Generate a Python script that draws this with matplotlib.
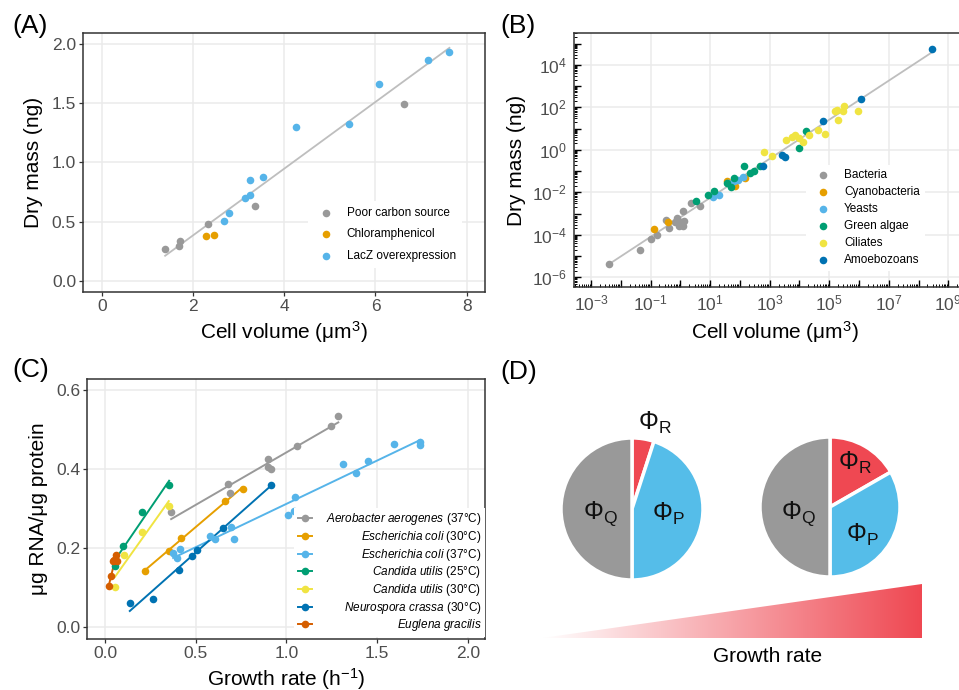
import matplotlib
matplotlib.use("Agg")
import matplotlib.pyplot as plt
import matplotlib.ticker as tck
import numpy as np
from matplotlib.colors import LinearSegmentedColormap
from matplotlib.lines import Line2D
from matplotlib.patches import Polygon

plt.rcParams['font.family'] = ['Liberation Sans', 'DejaVu Sans']
plt.rcParams['mathtext.fontset'] = 'custom'
plt.rcParams['mathtext.rm'] = 'Liberation Sans'
plt.rcParams['mathtext.it'] = 'Liberation Sans:italic'
plt.rcParams['mathtext.bf'] = 'Liberation Sans:bold'

# ========== data ==========
# (A) dry mass vs cell volume
poor_x = [1.39, 1.69, 1.72, 2.34, 3.37, 6.62]
poor_y = [0.27, 0.295, 0.34, 0.48, 0.63, 1.49]
chl_x = [2.28, 2.46]
chl_y = [0.38, 0.39]
lacz_x = [2.69, 2.80, 3.14, 3.25, 3.25, 3.54, 4.25, 5.41, 6.08, 7.14, 7.62]
lacz_y = [0.505, 0.576, 0.70, 0.727, 0.85, 0.88, 1.30, 1.326, 1.66, 1.86, 1.93]

# (B) log10 cell volume / log10 dry mass
bact_lx = [-2.38, -1.34, -1.0, -0.79, -0.49, -0.39, -0.18, -0.10, -0.03, 0.04, 0.08, 0.10, 0.12, 0.37, 0.66]
bact_ly = [-5.37, -4.74, -4.21, -4.0, -3.30, -3.66, -3.42, -3.19, -3.61, -3.42, -2.86, -3.58, -3.36, -2.51, -2.64]
cyano_lx = [-0.88, -0.40, 1.56, 1.84, 2.18]
cyano_ly = [-3.75, -3.41, -1.49, -1.70, -1.33]
yeast_lx = [1.11, 1.31, 1.61, 1.80, 1.95, 2.12]
yeast_ly = [-2.20, -2.12, -1.57, -1.46, -1.41, -1.26]
algae_lx = [0.53, 0.94, 1.14, 1.56, 1.69, 1.80, 2.14, 2.34, 2.47, 2.68, 3.99, 4.21]
algae_ly = [-2.42, -2.15, -1.93, -1.54, -1.77, -1.33, -0.75, -1.10, -1.02, -0.75, 0.08, 0.89]
cil_lx = [2.82, 3.09, 3.55, 3.74, 3.85, 4.0, 4.11, 4.33, 4.63, 4.86, 5.19, 5.27, 5.28, 5.45, 5.51, 5.96]
cil_ly = [-0.11, -0.28, 0.47, 0.60, 0.71, 0.55, 0.35, 0.68, 0.94, 0.74, 1.81, 1.88, 1.41, 1.81, 2.04, 1.81]
amoe_lx = [2.77, 3.40, 3.52, 4.80, 6.06, 8.46]
amoe_ly = [-0.74, -0.24, -0.33, 1.37, 2.40, 4.76]

# (C) RNA/protein vs growth rate
aero_x = [0.364, 0.68, 0.688, 0.90, 0.90, 0.913, 1.056, 1.247, 1.286]
aero_y = [0.29, 0.361, 0.34, 0.425, 0.406, 0.40, 0.459, 0.508, 0.533]
eco30_x = [0.219, 0.353, 0.416, 0.659, 0.758]
eco30_y = [0.141, 0.193, 0.226, 0.318, 0.350]
eco37_x = [0.375, 0.394, 0.414, 0.581, 0.607, 0.694, 0.712, 1.01, 1.04, 1.047, 1.314, 1.382, 1.452, 1.593, 1.737, 1.737]
eco37_y = [0.186, 0.174, 0.197, 0.230, 0.222, 0.254, 0.222, 0.284, 0.293, 0.330, 0.412, 0.390, 0.419, 0.464, 0.468, 0.461]
cu25_x = [0.052, 0.099, 0.206, 0.353]
cu25_y = [0.154, 0.204, 0.292, 0.359]
cu30_x = [0.055, 0.103, 0.206, 0.351]
cu30_y = [0.10, 0.182, 0.24, 0.307]
neuro_x = [0.136, 0.263, 0.408, 0.478, 0.506, 0.651, 0.913]
neuro_y = [0.06, 0.07, 0.145, 0.18, 0.195, 0.251, 0.36]
eug_x = [0.024, 0.035, 0.046, 0.05, 0.058, 0.063]
eug_y = [0.104, 0.13, 0.168, 0.17, 0.183, 0.167]

# (D) proteome fractions (R, P, Q) at low / high growth rate
phi_low = [0.05, 0.45, 0.50]
phi_high = [0.167, 0.333, 0.50]

# colours
GREY = '#999999'
ORANGE = '#E69F00'
SKY = '#56B4E9'
GREEN = '#009E73'
YELLOW = '#F0E442'
BLUE = '#0072B2'
VERM = '#D55E00'
FIT = '#BEBEBE'
RED = '#EF4852'
PBLUE = '#55BDE9'

fig = plt.figure(figsize=(9.59, 6.9), dpi=100)


def style_axes(ax):
    ax.set_facecolor('white')
    for s in ax.spines.values():
        s.set_linewidth(1.1)
        s.set_color('#333333')
    ax.grid(True, color='#EBEBEB', linewidth=1.1)
    ax.set_axisbelow(True)
    ax.tick_params(which='major', length=3, width=0.9, color='#333333',
                   labelsize=12.5, labelcolor='#4D4D4D', direction='out', pad=2)


# ========== (A) ==========
axA = fig.add_axes([83/959, 1-292/690, 402/959, 259/690])
style_axes(axA)
all_x = np.array(poor_x + chl_x + lacz_x)
all_y = np.array(poor_y + chl_y + lacz_y)
k, b = np.polyfit(all_x, all_y, 1)
xx = np.array([all_x.min(), all_x.max()])
axA.plot(xx, k*xx + b, color=FIT, lw=1.3, zorder=2)
axA.scatter(poor_x, poor_y, s=30, color=GREY, lw=0, label='Poor carbon source', zorder=3)
axA.scatter(chl_x, chl_y, s=30, color=ORANGE, lw=0, label='Chloramphenicol', zorder=3)
axA.scatter(lacz_x, lacz_y, s=30, color=SKY, lw=0, label='LacZ overexpression', zorder=3)
axA.set_xlim(-0.41, 8.4)
axA.set_ylim(-0.093, 2.09)
axA.set_xticks([0, 2, 4, 6, 8])
axA.set_yticks([0, 0.5, 1.0, 1.5, 2.0])
axA.yaxis.set_major_formatter(tck.FormatStrFormatter('%.1f'))
axA.set_xlabel('Cell volume (μm$^3$)', fontsize=15, labelpad=4)
axA.set_ylabel('Dry mass (ng)', fontsize=15, labelpad=6)
legA = axA.legend(loc='lower right', bbox_to_anchor=(0.957, 0.07), fontsize=8.5,
                  frameon=True, framealpha=1, edgecolor='none', fancybox=False,
                  handletextpad=0.8, labelspacing=0.82, borderpad=0.5)

# ========== (B) ==========
axB = fig.add_axes([574/959, 1-287/690, 402/959, 254/690])
style_axes(axB)
axB.grid(False)
axB.set_xscale('log')
axB.set_yscale('log')
groups_b = [(bact_lx, bact_ly, GREY, 'Bacteria'),
            (cyano_lx, cyano_ly, ORANGE, 'Cyanobacteria'),
            (yeast_lx, yeast_ly, SKY, 'Yeasts'),
            (algae_lx, algae_ly, GREEN, 'Green algae'),
            (cil_lx, cil_ly, YELLOW, 'Ciliates'),
            (amoe_lx, amoe_ly, BLUE, 'Amoebozoans')]
lx = np.concatenate([g[0] for g in groups_b])
ly = np.concatenate([g[1] for g in groups_b])
kb, bb = np.polyfit(lx, ly, 1)
lxx = np.array([lx.min(), lx.max()])
axB.plot(10**lxx, 10**(kb*lxx + bb), color=FIT, lw=1.3, zorder=2)
for gx, gy, c, lab in groups_b:
    axB.scatter(10**np.array(gx), 10**np.array(gy), s=30, color=c, lw=0, label=lab, zorder=3)
axB.set_xlim(10**-3.57, 10**9.93)
axB.set_ylim(10**-6.46, 10**5.5)
for e in range(-3, 10, 2):
    axB.axvline(10**e, color='#EBEBEB', lw=1.1, zorder=0)
for e in range(-6, 5, 2):
    axB.axhline(10**e, color='#EBEBEB', lw=1.1, zorder=0)
axB.xaxis.set_major_locator(tck.FixedLocator([10.0**e for e in range(-3, 10)]))
axB.yaxis.set_major_locator(tck.FixedLocator([10.0**e for e in range(-6, 6)]))
minors = [m*10.0**e for e in range(-7, 10) for m in range(2, 10)]
axB.xaxis.set_minor_locator(tck.FixedLocator(minors))
axB.yaxis.set_minor_locator(tck.FixedLocator(minors))


def log_label(odd):
    def f(v, pos):
        e = int(round(np.log10(v)))
        if (e % 2 == 1) != odd:
            return ''
        return r'$10^{%d}$' % e
    return f


axB.xaxis.set_major_formatter(tck.FuncFormatter(log_label(True)))
axB.yaxis.set_major_formatter(tck.FuncFormatter(log_label(False)))
axB.xaxis.set_minor_formatter(tck.NullFormatter())
axB.yaxis.set_minor_formatter(tck.NullFormatter())
axB.tick_params(which='major', direction='in', length=5, width=1, color='black', pad=5)
axB.tick_params(which='minor', direction='in', length=2.2, width=0.7, color='black')
axB.set_xlabel('Cell volume (μm$^3$)', fontsize=15, labelpad=4)
axB.set_ylabel('Dry mass (ng)', fontsize=15, labelpad=4)
legB = axB.legend(loc='lower right', bbox_to_anchor=(0.887, 0.04), fontsize=8.5,
                  frameon=True, framealpha=1, edgecolor='none', fancybox=False,
                  handletextpad=0.8, labelspacing=0.42, borderpad=0.4)

# ========== (C) ==========
axC = fig.add_axes([87/959, 1-638.7/690, 398/959, 259.7/690])
style_axes(axC)
groups_c = [(aero_x, aero_y, GREY, r'$\mathit{Aerobacter\ aerogenes}$ (37°C)'),
            (eco30_x, eco30_y, ORANGE, r'$\mathit{Escherichia\ coli}$ (30°C)'),
            (eco37_x, eco37_y, SKY, r'$\mathit{Escherichia\ coli}$ (37°C)'),
            (cu25_x, cu25_y, GREEN, r'$\mathit{Candida\ utilis}$ (25°C)'),
            (cu30_x, cu30_y, YELLOW, r'$\mathit{Candida\ utilis}$ (30°C)'),
            (neuro_x, neuro_y, BLUE, r'$\mathit{Neurospora\ crassa}$ (30°C)'),
            (eug_x, eug_y, VERM, r'$\mathit{Euglena\ gracilis}$')]
handles = []
for gx, gy, c, lab in groups_c:
    gx = np.array(gx)
    kc, bc = np.polyfit(gx, gy, 1)
    xr = np.array([gx.min(), gx.max()])
    axC.plot(xr, kc*xr + bc, color=c, lw=1.4, zorder=2)
    axC.scatter(gx, gy, s=30, color=c, lw=0, zorder=3)
    handles.append(Line2D([], [], color=c, lw=1.4, marker='o', markersize=5.5,
                          markeredgewidth=0, label=lab))
axC.set_xlim(-0.1, 2.095)
axC.set_ylim(-0.03, 0.628)
axC.set_xticks([0, 0.5, 1.0, 1.5, 2.0])
axC.set_yticks([0, 0.2, 0.4, 0.6])
axC.xaxis.set_major_formatter(tck.FormatStrFormatter('%.1f'))
axC.yaxis.set_major_formatter(tck.FormatStrFormatter('%.1f'))
axC.set_xlabel('Growth rate (h$^{-1}$)', fontsize=15, labelpad=4)
axC.set_ylabel('μg RNA/μg protein', fontsize=15, labelpad=6)
legC = axC.legend(handles=handles, loc='lower right', bbox_to_anchor=(1.015, -0.016),
                  fontsize=8.5, frameon=True, framealpha=1, edgecolor='none',
                  fancybox=False, handlelength=1.2, handletextpad=1.2,
                  labelspacing=0.14, borderpad=0.3)
# right-align legend text: shift each label by the difference to the widest one
fig.canvas.draw()
renderer = fig.canvas.get_renderer()
widths = [t.get_window_extent(renderer).width for t in legC.get_texts()]
for t, w in zip(legC.get_texts(), widths):
    t.set_position((max(widths) - w, 0))

# ========== (D) ==========
axD = fig.add_axes([500/959, 0, 459/959, 350/690])
wp = dict(edgecolor='white', linewidth=2.5)
axD.pie(phi_low, center=(632, 181), radius=71, startangle=90, counterclock=False,
        colors=[RED, PBLUE, GREY], explode=[0.1, 0, 0], wedgeprops=wp, frame=True)
axD.pie(phi_high, center=(830, 183), radius=70, startangle=90, counterclock=False,
        colors=[RED, PBLUE, GREY], explode=[0.1, 0, 0], wedgeprops=wp, frame=True)
phi_kw = dict(fontsize=18, ha='center', va='center', color='#111111')
axD.text(600, 176, r'$\Phi_{\mathrm{Q}}$', **phi_kw)
axD.text(668, 176, r'$\Phi_{\mathrm{P}}$', **phi_kw)
axD.text(655, 267, r'$\Phi_{\mathrm{R}}$', **phi_kw)
axD.text(798, 176, r'$\Phi_{\mathrm{Q}}$', **phi_kw)
axD.text(855, 227, r'$\Phi_{\mathrm{R}}$', **phi_kw)
axD.text(862, 155, r'$\Phi_{\mathrm{P}}$', **phi_kw)

# growth-rate wedge with white-to-red gradient
tri = Polygon([(541.7, 51.7), (921.7, 51.7), (921.7, 106)], closed=True,
              facecolor='none', edgecolor='none')
axD.add_patch(tri)
cmap = LinearSegmentedColormap.from_list('wr', ['#FFFFFF', RED])
grad = np.linspace(0, 1, 256).reshape(1, -1)
im = axD.imshow(grad, cmap=cmap, extent=[541.7, 921.7, 51.7, 106], aspect='auto',
                interpolation='bilinear')
im.set_clip_path(tri)
axD.text(768, 34, 'Growth rate', fontsize=15, ha='center', va='center')
axD.set_xlim(500, 959)
axD.set_ylim(0, 350)
axD.set_aspect('auto')
axD.axis('off')

# panel letters
for lab, px, py in [('(A)', 12, 26), ('(B)', 500, 26), ('(C)', 12, 370), ('(D)', 500, 372)]:
    fig.text(px/959, 1 - py/690, lab, fontsize=19, ha='left', va='center')

fig.savefig('out.png', dpi=100)
